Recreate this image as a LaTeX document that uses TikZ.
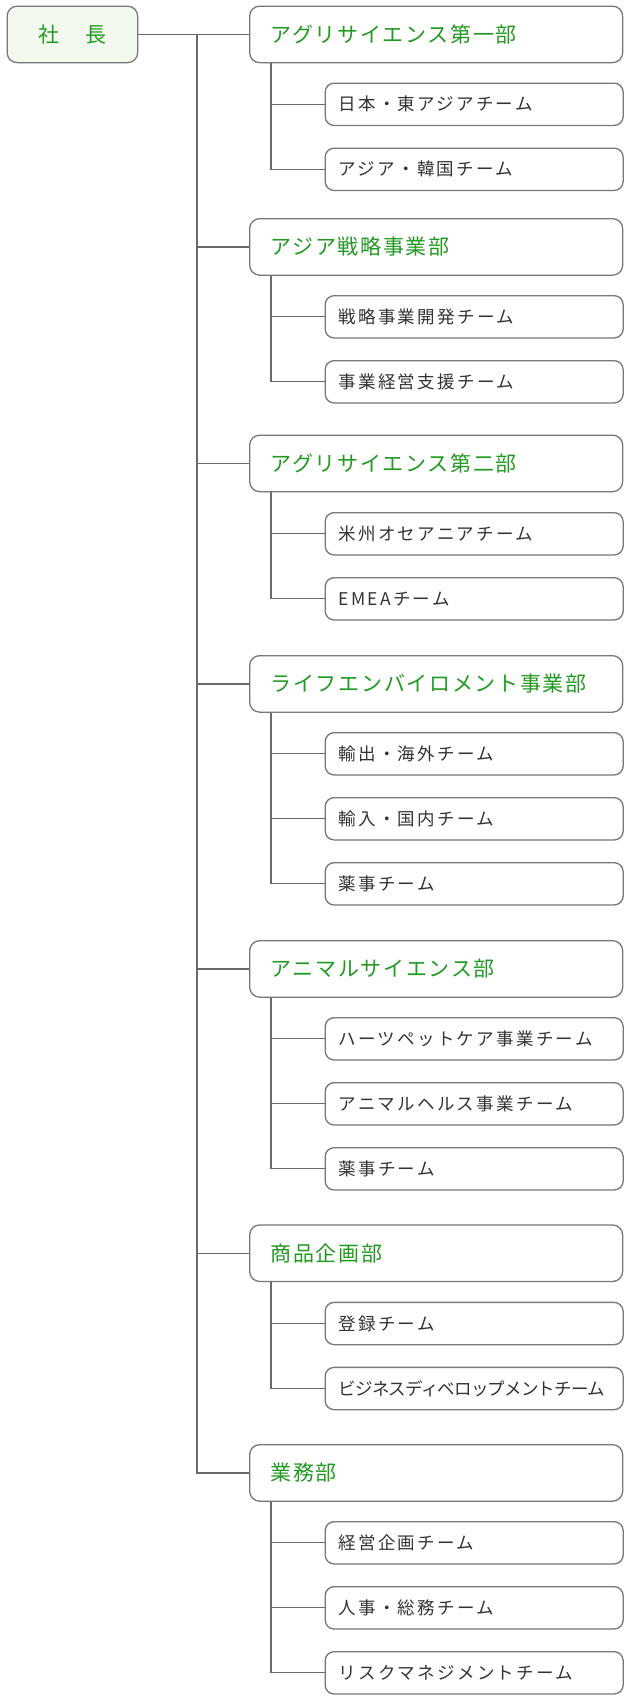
\documentclass[tikz,border=0pt]{standalone}
\usepackage{fontspec}
\newfontfamily\deptfont{Noto Sans CJK JP}[LetterSpace=8]
\newfontfamily\teamfont{Noto Sans CJK JP}[LetterSpace=13]
\newfontfamily\teamtight{Noto Sans CJK JP}[LetterSpace=-4.5]
\newfontfamily\ceofont{Noto Sans CJK JP}
\definecolor{ogreen}{HTML}{229922}
\definecolor{oborder}{HTML}{777777}
\definecolor{oline}{HTML}{6A6A6A}
\definecolor{oceo}{HTML}{F4F9EF}
\definecolor{otext}{HTML}{333333}
\tikzset{
  ceobox/.style={draw=oborder, line width=1.3pt, fill=oceo, rounded corners=10pt,
    minimum width=130.5pt, minimum height=56.5pt, inner sep=0pt, text=ogreen,
    font=\ceofont\fontsize{21}{25}\selectfont, anchor=north west},
  deptbox/.style={draw=oborder, line width=1.3pt, fill=white, rounded corners=10pt,
    text width=331pt, inner xsep=21pt, inner ysep=0pt, minimum height=56.5pt, align=left,
    text=ogreen, font=\deptfont\fontsize{21}{25}\selectfont, anchor=north west},
  teambox/.style={draw=oborder, line width=1.3pt, fill=white, rounded corners=9pt,
    text width=271pt, inner xsep=13.5pt, inner ysep=0pt, minimum height=42.3pt, align=left,
    text=otext, font=\teamfont\fontsize{17.5}{21}\selectfont, anchor=north west},
  conn/.style={draw=oline, line width=1.3pt}
}
\begin{document}
\begin{tikzpicture}[x=1pt,y=-1pt]
\fill[white] (0,0) rectangle (630,1700);
\useasboundingbox (0,0) rectangle (630,1700);

\node[ceobox] (ceo) at (6.5,5.5) {社\hspace{26pt}長\hspace{8.6pt}};

% departments
\node[deptbox] (d1) at (249,5.5) {アグリサイエンス第一部};
\node[deptbox] (d2) at (249,218) {アジア戦略事業部};
\node[deptbox] (d3) at (249,434.5) {アグリサイエンス第二部};
\node[deptbox] (d4) at (249,655) {ライフエンバイロメント事業部};
\node[deptbox] (d5) at (249,940) {アニマルサイエンス部};
\node[deptbox] (d6) at (249,1224.3) {商品企画部};
\node[deptbox] (d7) at (249,1444) {業務部};

% teams
\node[teambox] (t11) at (324.5,82.5) {日本・東アジアチーム};
\node[teambox] (t12) at (324.5,147.5) {アジア・韓国チーム};
\node[teambox] (t21) at (324.5,295) {戦略事業開発チーム};
\node[teambox] (t22) at (324.5,360) {事業経営支援チーム};
\node[teambox] (t31) at (324.5,512) {米州オセアニアチーム};
\node[teambox] (t32) at (324.5,577) {EMEAチーム};
\node[teambox] (t41) at (324.5,732) {輸出・海外チーム};
\node[teambox] (t42) at (324.5,797) {輸入・国内チーム};
\node[teambox] (t43) at (324.5,862) {薬事チーム};
\node[teambox] (t51) at (324.5,1017) {ハーツペットケア事業チーム};
\node[teambox] (t52) at (324.5,1082) {アニマルヘルス事業チーム};
\node[teambox] (t53) at (324.5,1147) {薬事チーム};
\node[teambox] (t61) at (324.5,1301.7) {登録チーム};
\node[teambox] (t62) at (324.5,1366.7) {\teamtight ビジネスディベロップメントチーム};
\node[teambox] (t71) at (324.5,1521) {経営企画チーム};
\node[teambox] (t72) at (324.5,1586) {人事・総務チーム};
\node[teambox] (t73) at (324.5,1651) {リスクマネジメントチーム};

% trunk
\coordinate (tr) at (197,33.75);
\draw[conn] (ceo.east) -- (d1.west);
\draw[conn] (tr) |- (d7.west);
\foreach \d in {d2,d3,d4,d5,d6} \draw[conn] (tr |- \d.west) -- (\d.west);

% branches
\coordinate (b1) at ([xshift=22pt]d1.south west);
\coordinate (b2) at ([xshift=22pt]d2.south west);
\coordinate (b3) at ([xshift=22pt]d3.south west);
\coordinate (b4) at ([xshift=22pt]d4.south west);
\coordinate (b5) at ([xshift=22pt]d5.south west);
\coordinate (b6) at ([xshift=22pt]d6.south west);
\coordinate (b7) at ([xshift=22pt]d7.south west);
\draw[conn] (b1) |- (t12.west);
\draw[conn] (b1 |- t11.west) -- (t11.west);
\draw[conn] (b2) |- (t22.west);
\draw[conn] (b2 |- t21.west) -- (t21.west);
\draw[conn] (b3) |- (t32.west);
\draw[conn] (b3 |- t31.west) -- (t31.west);
\draw[conn] (b4) |- (t43.west);
\draw[conn] (b4 |- t41.west) -- (t41.west);
\draw[conn] (b4 |- t42.west) -- (t42.west);
\draw[conn] (b5) |- (t53.west);
\draw[conn] (b5 |- t51.west) -- (t51.west);
\draw[conn] (b5 |- t52.west) -- (t52.west);
\draw[conn] (b6) |- (t62.west);
\draw[conn] (b6 |- t61.west) -- (t61.west);
\draw[conn] (b7) |- (t73.west);
\draw[conn] (b7 |- t71.west) -- (t71.west);
\draw[conn] (b7 |- t72.west) -- (t72.west);
\end{tikzpicture}
\end{document}
